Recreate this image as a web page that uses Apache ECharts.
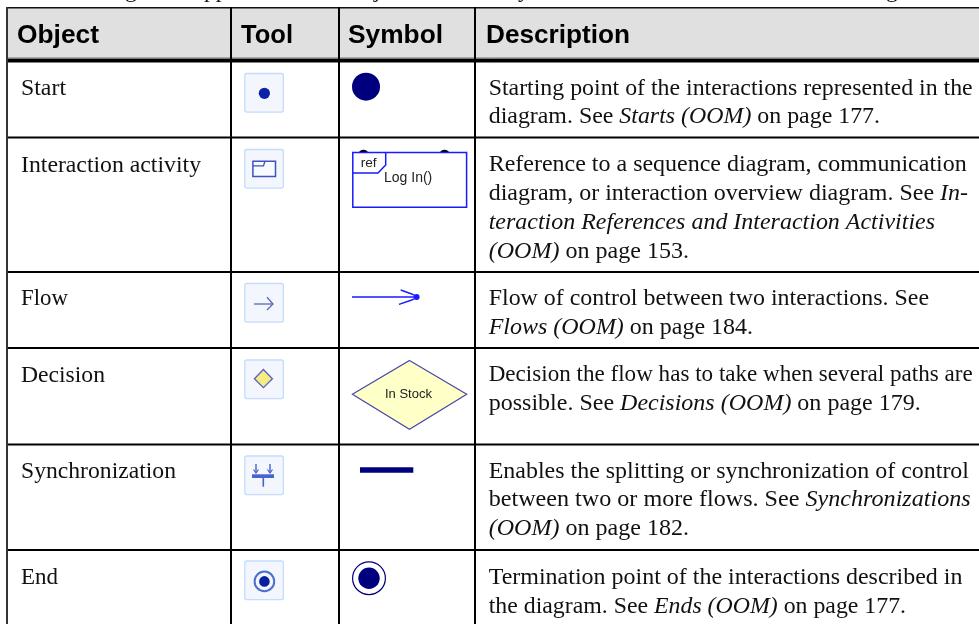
<!DOCTYPE html>
<html><head><meta charset="utf-8">
<style>html,body{margin:0;padding:0;background:#fff}#c{width:979px;height:624px}</style>
<script src="https://cdn.jsdelivr.net/npm/echarts@6/dist/echarts.min.js"></script>
</head><body><div id="c"></div>
<script>
// ---- table content ----
const headers = ['Object', 'Tool', 'Symbol', 'Description'];
const objects = ['Start', 'Interaction activity', 'Flow', 'Decision', 'Synchronization', 'End'];
// *…* marks an italic run
const descriptions = [
  ['Starting point of the interactions represented in the', 'diagram. See *Starts (OOM)* on page 177.'],
  ['Reference to a sequence diagram, communication', 'diagram, or interaction overview diagram. See *In-*', '*teraction References and Interaction Activities*', '*(OOM)* on page 153.'],
  ['Flow of control between two interactions. See', '*Flows (OOM)* on page 184.'],
  ['Decision the flow has to take when several paths are', 'possible. See *Decisions (OOM)* on page 179.'],
  ['Enables the splitting or synchronization of control', 'between two or more flows. See *Synchronizations*', '*(OOM)* on page 182.'],
  ['Termination point of the interactions described in', 'the diagram. See *Ends (OOM)* on page 177.']
];
// descenders of the cut-off sentence above the table
const clippedGlyphs = ['g', 'pp', 'j', 'y', 'g'];
const clippedX = [125, 204, 374, 518, 886];
// ---- layout ----
const colX = [7, 231, 339, 475];
const rowY = [137.5, 272, 348, 444.5, 550];
const headerSpans = [[17, 99], [241, 293], [348, 443], [486, 630]];
const objectBase = [93, 170, 303, 380, 476, 582];
const objectEnd = [66, 201, 68, 105, 176, 58];
const descBase = [[93, 121.7], [169, 198, 227, 256], [303, 332.5], [379, 408], [476, 504, 533], [582, 611]];
const descEnd = [[972.7, 880], [966.7, 968, 935, 689], [929, 753], [972.7, 920.7], [969, 970.7, 689], [962.5, 906]];
const toolY = [73.5, 149.5, 283.5, 360, 456, 561];

const measure = document.createElement('canvas').getContext('2d');
const SERIF = '"Liberation Serif"', SANS = '"Liberation Sans"', BODY = 23.7;
function runs(s) { return s.split('*').map((t, i) => ({ t, it: i % 2 === 1 })).filter(r => r.t); }
function widthOf(s) {
  return runs(s).reduce((w, r) => {
    measure.font = (r.it ? 'italic ' : '') + BODY + 'px ' + SERIF;
    return w + measure.measureText(r.t).width;
  }, 0);
}
const g = [];
const rect = (x, y, w, h, fill, stroke, lw, r) => g.push({ type: 'rect', shape: { x, y, width: w, height: h, r: r || 0 }, style: { fill: fill || 'none', stroke: stroke || null, lineWidth: lw || 0 } });
const line = (x1, y1, x2, y2, stroke, lw) => g.push({ type: 'line', shape: { x1, y1, x2, y2 }, style: { stroke, lineWidth: lw } });
const circle = (cx, cy, r, fill, stroke, lw) => g.push({ type: 'circle', shape: { cx, cy, r }, style: { fill: fill || 'none', stroke: stroke || null, lineWidth: lw || 0 } });
const poly = (points, fill, stroke, lw) => g.push({ type: 'polygon', shape: { points }, style: { fill, stroke, lineWidth: lw } });
const pl = (points, stroke, lw) => g.push({ type: 'polyline', shape: { points }, style: { fill: 'none', stroke, lineWidth: lw } });
// baseline-placed plain text, stretched to span x..endX when endX is given
function label(text, x, base, font, size, fill, endX, weight) {
  const f = (weight ? weight + ' ' : '') + size + 'px ' + font;
  measure.font = f;
  const sx = endX ? (endX - x) / measure.measureText(text).width : 1;
  g.push({ type: 'text', x, y: base - size * 0.28, scaleX: sx,
    style: { text, font: f, fill: fill || '#111', verticalAlign: 'middle', align: 'left' } });
}
// fitted line of mixed roman/italic text, baseline at y
function fitted(s, x, y, endX) {
  const rs = runs(s), sx = (endX - x) / widthOf(s);
  const text = rs.map(r => '{' + (r.it ? 'i' : 'r') + '|' + r.t + '}').join('');
  g.push({
    type: 'text', x, y: y - 16, scaleX: sx,
    style: {
      text, fill: '#111',
      rich: {
        r: { font: BODY + 'px ' + SERIF, fill: '#111', height: 23, lineHeight: 23 },
        i: { font: 'italic ' + BODY + 'px ' + SERIF, fill: '#111', height: 23, lineHeight: 23 }
      }
    }
  });
}

// cut-off sentence above the table
clippedGlyphs.forEach((t, i) => label(t, clippedX[i], -3, SERIF, 23.7, '#111'));
// header band
rect(7, 8, 972, 50, '#e0e0e0');
headers.forEach((h, i) => label(h, headerSpans[i][0], 43.3, SANS, 26.4, '#000', headerSpans[i][1], 'bold'));
// rules
line(6, 7.7, 979, 7.7, '#111', 1.6);
line(6, 60.5, 979, 60.5, '#000', 4);
line(6, 58, 979, 58, '#777', 1);
rowY.forEach(y => line(6, y, 979, y, '#000', 2));
colX.forEach((x, i) => line(x, 7, x, 624, i === 0 ? '#333' : '#000', 2));

// object names and descriptions
objects.forEach((o, i) => fitted(o, 21, objectBase[i], objectEnd[i]));
descriptions.forEach((ls, i) => ls.forEach((l, j) => fitted(l, 488.7, descBase[i][j], descEnd[i][j])));

// tool buttons
toolY.forEach(y => rect(244.8, y, 38.6, 38.6, '#f3f6fc', '#c6dcfb', 1.3, 2));
const ic = '#3f55b8';
// start tool
circle(264.4, 93.3, 5.6, '#0a22a8');
// interaction tool
rect(252.9, 161.2, 22.6, 15.3, '#f8faff', ic, 1.5);
pl([[253, 165.8], [263.5, 165.8], [265, 161.2]], ic, 1.3);
// flow tool
line(254, 304, 273, 304, '#5a66bb', 1.3);
pl([[267, 297.3], [273, 304], [267, 310]], '#5a66bb', 1.3);
// decision tool
poly([[263.4, 369.5], [272.4, 378.7], [263.4, 387.7], [254.4, 378.7]], '#f5ec82', '#5a5fc0', 1.3);
// synchronization tool
rect(252, 474.3, 22, 3.7, '#4663cf');
line(263.3, 478, 263.3, 486.7, '#4663cf', 1.6);
line(256, 464, 256, 473, '#4663cf', 1.4); pl([[253.5, 469.5], [256, 473], [258.5, 469.5]], '#4663cf', 1.2);
line(270, 464, 270, 473, '#4663cf', 1.4); pl([[267.5, 469.5], [270, 473], [272.5, 469.5]], '#4663cf', 1.2);
// end tool
circle(264.4, 581.4, 9.8, 'none', '#4a70cc', 2);
circle(264.4, 581.4, 5.3, '#0a1fa0');

// symbols
const navy = '#00007f', blue = '#1a1aff';
circle(366, 86.7, 14, navy);
// interaction activity symbol
g.push({ type: 'ellipse', shape: { cx: 363.5, cy: 152.8, rx: 4.5, ry: 3 }, style: { fill: '#000' } });
g.push({ type: 'ellipse', shape: { cx: 444.5, cy: 152.8, rx: 4.5, ry: 3 }, style: { fill: '#000' } });
rect(352.8, 152.4, 113.8, 54.8, '#fff', blue, 1.5);
pl([[352.8, 173], [378, 173], [385.7, 165], [385.7, 152.4]], blue, 1.5);
label('ref', 360.7, 166.7, SANS, 13.7, '#222');
label('Log In()', 384, 182.3, SANS, 14, '#222');
// flow symbol
line(352, 297, 416, 297, blue, 1.7);
pl([[400.7, 290], [411.7, 294], [417, 296.7]], blue, 1.4);
pl([[399, 304.3], [411.7, 300], [417, 297.3]], blue, 1.4);
circle(416.7, 297, 2.9, blue);
// decision symbol
poly([[409.5, 360.5], [466.7, 394.3], [409.5, 429.2], [352.4, 394.3]], '#ffffc8', '#4848a8', 1.2);
label('In Stock', 385, 397.7, SANS, 13, '#222');
// synchronization symbol
rect(360, 467.3, 53.3, 5.4, navy);
// end symbol
circle(369, 578.2, 16.4, '#fff', navy, 1.2);
circle(369, 578.2, 10.7, navy);

echarts.init(document.getElementById('c'), null, { renderer: 'canvas' }).setOption({
  backgroundColor: '#fff', animation: false, graphic: { elements: g.map(e => Object.assign({ silent: true }, e)) }
});
</script></body></html>
